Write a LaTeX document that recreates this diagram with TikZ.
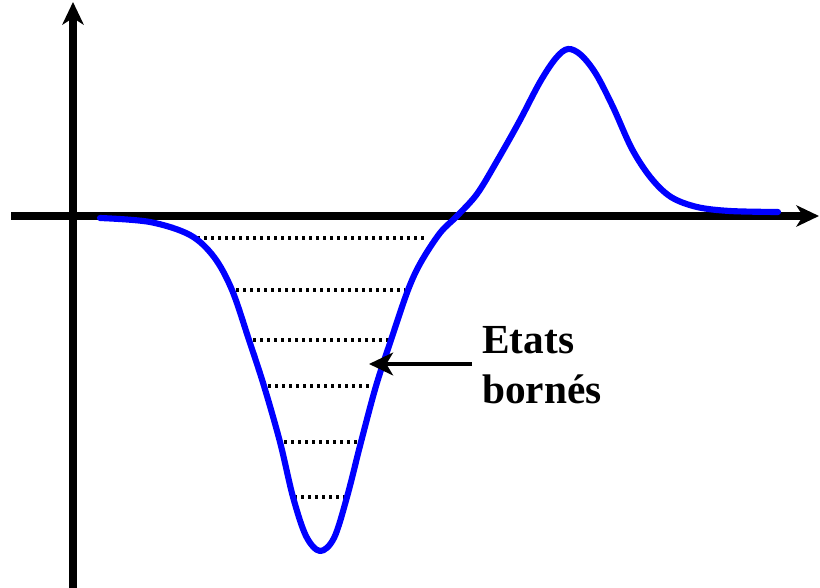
\documentclass[tikz,border=0pt]{standalone}
\usepackage{fontspec}
\setmainfont{Liberation Serif}
\usetikzlibrary{arrows.meta}
\begin{document}
\begin{tikzpicture}[x=0.75pt,y=-0.75pt,
  axisline/.style={line width=5.3pt,-{Stealth[length=17pt,width=16pt,inset=5pt]}},
  wave/.style={blue,line width=4.6pt,line join=round,line cap=round},
  level/.style={line width=2.5pt,dash pattern=on 2.5pt off 2.75pt},
  pointer/.style={line width=3pt,-{Stealth[length=18pt,width=17pt,inset=5pt]}},
  lbl/.style={font=\bfseries\fontsize{31}{37}\selectfont,anchor=base west,inner sep=0pt}
]
\useasboundingbox (0,0) rectangle (820,588);
% axes
\coordinate (ybot) at (73,588);
\coordinate (ytop) at (73,2);
\coordinate (xl) at (11,216);
\coordinate (xr) at (819,216);
\draw[axisline] (xl) -- (xr);
\draw[axisline] (ybot) -- (ytop);
% energy levels
\foreach \yy/\xa/\xb in {238/197/424, 290/236/405, 340/253/389, 386/268/373, 442/284/358, 497/294/345}{
  \draw[level] (\xa,\yy) -- (\xb,\yy);
}
% potential curve
\draw[wave] plot[smooth,tension=0.55] coordinates {
 (100,218) (150,222) (190,235) (214,257) (232,290) (249,340) (264,386)
 (280,442) (293,497) (306,536) (320,551) (334,538) (347,497) (361,442)
 (376,386) (391,340) (408,290) (421,262) (440,233) (457,216) (477,194)
 (497,161) (519,122) (540,82) (556,58) (568,49) (581,55) (596,74)
 (613,107) (632,149) (651,178) (671,197) (697,207) (730,211) (778,212)};
% label and pointer
\node[lbl] (t1) at (482,353) {Etats};
\node[lbl] (t2) at (482,403) {bornés};
\coordinate (pstart) at (472,364);
\coordinate (ptip) at (369,364);
\draw[pointer] (pstart) -- (ptip);
\end{tikzpicture}
\end{document}
